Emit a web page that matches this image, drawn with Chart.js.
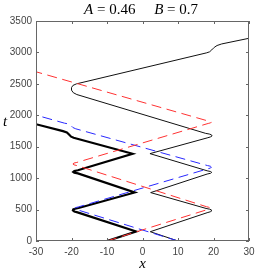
<!DOCTYPE html>
<html>
<head>
<meta charset="utf-8">
<script src="https://cdn.jsdelivr.net/npm/chart.js@4.4.1/dist/chart.umd.min.js"></script>
<style>
    html, body { margin: 0; padding: 0; background: #fff; }
    #wrap { width: 275px; height: 275px; }
</style>
</head>
<body>
<div id="wrap"><canvas id="chart"></canvas></div>
<script>
// trajectories: x position vs time t
const thickX = [-10, -1.8, -18.3, -19.2, -19.6, -19.5, -19.0, -18.0, -2.2, -18.2, -19.2, -19.5, -19.2, -18.2, -2.8, -19.4, -20.1, -20.7, -21.3, -22.4, -30];
const thickT = [0, 150, 455, 470, 487, 502, 513, 525, 772, 1075, 1088, 1100, 1113, 1125, 1388, 1642, 1660, 1695, 1728, 1748, 1858];

const thinX = [10, 2.2, 18.2, 19.1, 19.5, 19.4, 18.9, 17.9, 2.3, 18.2, 19.2, 19.5, 19.2, 18.2, 2.1, 18.2, 19.1, 19.6, 19.4, 18.8, 17.8, -18.5, -19.5, -20.0, -20.0, -19.6, -18.6, 18.1, 18.9, 19.5, 20.2, 21.0, 22.3, 30];
const thinT = [0, 148, 450, 465, 480, 495, 506, 518, 770, 1065, 1078, 1092, 1105, 1117, 1390, 1640, 1655, 1672, 1690, 1702, 1712, 2330, 2360, 2400, 2440, 2475, 2500, 2994, 3010, 3040, 3080, 3110, 3135, 3225];

const redX = [-10, 18.0, 18.7, 19.0, 18.7, 18.0, -18.5, -19.3, -19.6, -19.3, -18.5, 18.5, 19.2, 19.4, 19.1, 18.3, -30];
const redT = [0, 495, 508, 522, 536, 546, 1200, 1212, 1226, 1240, 1250, 1870, 1880, 1892, 1903, 1912, 2692];

const blueX = [10, -18.0, -18.8, -19.1, -18.8, -18.0, 18.5, 19.2, 19.4, 19.1, 18.3, -18.8, -19.6, -20.2, -20.8, -22.0, -30];
const blueT = [0, 490, 503, 518, 532, 543, 1150, 1162, 1176, 1190, 1200, 1785, 1805, 1840, 1862, 1875, 2003];

const xTicks = [-30, -20, -10, 0, 10, 20, 30];
const tTicks = [0, 500, 1000, 1500, 2000, 2500, 3000, 3500];

const toPoints = (xs, ts) => xs.map((x, i) => ({ x: x, y: ts[i] }));

const serif = '"Liberation Serif", "Times New Roman", serif';
const sans = '"Liberation Sans", Arial, sans-serif';

// frame with inward ticks, title and axis letters
const decorPlugin = {
    id: 'decor',
    afterDraw(chart) {
        const { ctx, chartArea: a, scales } = chart;
        const tick = 3;
        ctx.save();
        ctx.strokeStyle = '#666';
        ctx.lineWidth = 1;
        ctx.strokeRect(a.left + 0.5, a.top + 0.5, a.right - a.left - 1, a.bottom - a.top - 1);
        ctx.beginPath();
        xTicks.forEach(v => {
            const px = Math.round(scales.x.getPixelForValue(v)) + 0.5;
            ctx.moveTo(px, a.bottom); ctx.lineTo(px, a.bottom - tick);
            ctx.moveTo(px, a.top); ctx.lineTo(px, a.top + tick);
        });
        tTicks.forEach(v => {
            const py = Math.round(scales.y.getPixelForValue(v)) + 0.5;
            ctx.moveTo(a.left, py); ctx.lineTo(a.left + tick, py);
            ctx.moveTo(a.right, py); ctx.lineTo(a.right - tick, py);
        });
        ctx.stroke();

        // title with italic symbols
        const parts = [
            ['A', 'italic'], [' = 0.46', 'normal'], ['     ', 'normal'],
            ['B', 'italic'], [' = 0.7', 'normal']
        ];
        ctx.fillStyle = '#000';
        ctx.textBaseline = 'alphabetic';
        ctx.textAlign = 'left';
        let total = 0;
        parts.forEach(p => {
            ctx.font = p[1] + ' 15px ' + serif;
            total += ctx.measureText(p[0]).width;
        });
        let x = 141 - total / 2;
        parts.forEach(p => {
            ctx.font = p[1] + ' 15px ' + serif;
            ctx.fillText(p[0], x, 14);
            x += ctx.measureText(p[0]).width;
        });

        ctx.font = 'italic 15px ' + serif;
        ctx.textAlign = 'center';
        ctx.fillText('x', (a.left + a.right) / 2, 268);
        ctx.fillText('t', 5, 126);
        ctx.restore();
    }
};

const lineSet = (label, xs, ts, color, width, dash) => ({
    label: label,
    data: toPoints(xs, ts),
    showLine: true,
    borderColor: color,
    borderWidth: width,
    borderDash: dash,
    pointRadius: 0,
    tension: 0,
    fill: false,
    clip: 0
});

new Chart(document.getElementById('chart'), {
    type: 'scatter',
    data: {
        datasets: [
            lineSet('red', redX, redT, 'rgb(255,50,50)', 1, [10, 5.5]),
            lineSet('blue', blueX, blueT, 'rgb(40,40,255)', 1, [10, 5.5]),
            lineSet('thick', thickX, thickT, '#000', 2.2, []),
            lineSet('thin', thinX, thinT, '#111', 1, [])
        ]
    },
    options: {
        responsive: true,
        maintainAspectRatio: false,
        animation: false,
        events: [],
        layout: { padding: { top: 21, right: 26, left: 0, bottom: 0 } },
        plugins: {
            legend: { display: false },
            tooltip: { enabled: false }
        },
        scales: {
            x: {
                type: 'linear',
                min: -30,
                max: 30,
                afterBuildTicks: s => { s.ticks = xTicks.map(v => ({ value: v })); },
                afterFit: s => { s.height = 34; },
                grid: { display: false, drawTicks: false },
                border: { display: false },
                ticks: {
                    padding: 5,
                    maxRotation: 0,
                    color: '#444',
                    font: { family: sans, size: 10 },
                    callback: v => String(v)
                }
            },
            y: {
                type: 'linear',
                min: 0,
                max: 3500,
                afterBuildTicks: s => { s.ticks = tTicks.map(v => ({ value: v })); },
                afterFit: s => { s.width = 36; },
                grid: { display: false, drawTicks: false },
                border: { display: false },
                ticks: {
                    padding: 4,
                    color: '#444',
                    font: { family: sans, size: 10 },
                    callback: v => String(v)
                }
            }
        }
    },
    plugins: [decorPlugin]
});
</script>
</body>
</html>
